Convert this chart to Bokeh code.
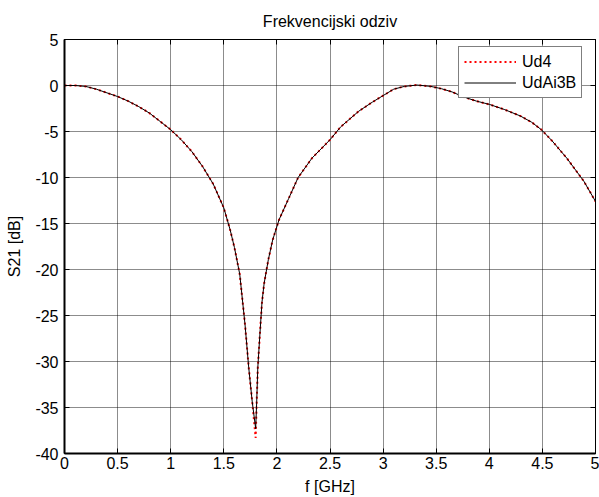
from bokeh.plotting import figure
from bokeh.models import Range1d, LinearAxis, FixedTicker, Legend, LegendItem
from bokeh.embed import file_html
from bokeh.resources import INLINE

# ---- data ----
freq_ghz = [0.00, 0.10, 0.20, 0.30, 0.40, 0.50, 0.60, 0.70, 0.80, 0.90,
            1.00, 1.10, 1.20, 1.30, 1.40, 1.50, 1.56, 1.60, 1.65, 1.70,
            1.735, 1.767, 1.80, 1.81, 1.82, 1.84, 1.86, 1.88, 1.92, 1.96,
            2.02, 2.11, 2.20, 2.33, 2.50, 2.60, 2.77, 2.90, 3.00, 3.10,
            3.20, 3.32, 3.45, 3.55, 3.65, 3.76, 3.88, 4.00, 4.14, 4.29, 4.40,
            4.49, 4.59, 4.73, 4.89, 5.00]
s21_udai3b = [0.0, 0.0, -0.1, -0.4, -0.8, -1.2, -1.7, -2.3, -3.0, -3.9,
              -4.8, -5.9, -7.2, -8.8, -10.7, -13.3, -15.7, -17.6, -20.5, -26.0,
              -30.7, -34.3, -37.3, -34.3, -30.7, -27.0, -23.5, -21.5, -18.9, -16.8,
              -14.6, -12.3, -10.0, -7.9, -5.9, -4.5, -2.8, -1.8, -1.1, -0.4,
              -0.1, 0.05, -0.1, -0.35, -0.7, -1.25, -1.7, -2.05, -2.6, -3.3, -4.0,
              -4.8, -6.0, -7.9, -10.4, -12.6]
s21_ud4 = [0.0, 0.0, -0.1, -0.4, -0.8, -1.2, -1.7, -2.3, -3.0, -3.9,
           -4.8, -5.9, -7.2, -8.8, -10.7, -13.3, -15.7, -17.6, -20.5, -26.0,
           -30.7, -34.3, -38.3, -34.3, -30.7, -27.0, -23.5, -21.5, -18.9, -16.8,
           -14.6, -12.3, -10.0, -7.9, -5.9, -4.5, -2.8, -1.8, -1.1, -0.4,
           -0.1, 0.05, -0.1, -0.35, -0.7, -1.25, -1.7, -2.05, -2.6, -3.3, -4.0,
           -4.8, -6.0, -7.9, -10.4, -12.6]
series_names = ["Ud4", "UdAi3B"]
x_ticks = [0, 0.5, 1, 1.5, 2, 2.5, 3, 3.5, 4, 4.5, 5]
x_tick_labels = ["0", "0.5", "1", "1.5", "2", "2.5", "3", "3.5", "4", "4.5", "5"]
y_ticks = [5, 0, -5, -10, -15, -20, -25, -30, -35, -40]
y_tick_labels = ["5", "0", "-5", "-10", "-15", "-20", "-25", "-30", "-35", "-40"]

FONT = "Liberation Sans"

p = figure(width=599, height=497, output_backend="svg", toolbar_location=None,
           x_range=Range1d(0, 5), y_range=Range1d(-40, 5),
           min_border_left=64, min_border_right=4, min_border_top=39,
           min_border_bottom=44, background_fill_color="white",
           border_fill_color="white")

p.title.text = "Frekvencijski odziv"
p.title.align = "center"
p.title.vertical_align = "top"
p.title.text_font = FONT
p.title.text_font_size = "16px"
p.title.text_font_style = "normal"
p.title.text_color = "black"
p.title.standoff = 16

p.outline_line_color = "black"
p.outline_line_width = 1

def style_axis(ax):
    ax.major_tick_in = 5
    ax.major_tick_out = 0
    ax.minor_tick_in = 0
    ax.minor_tick_out = 0
    ax.axis_line_color = "black"
    ax.major_tick_line_color = "black"
    ax.major_label_text_font = FONT
    ax.major_label_text_font_size = "16px"
    ax.major_label_text_color = "black"
    ax.axis_label_text_font = FONT
    ax.axis_label_text_font_size = "16px"
    ax.axis_label_text_font_style = "normal"
    ax.axis_label_text_color = "black"

xt = FixedTicker(ticks=x_ticks)
yt = FixedTicker(ticks=y_ticks)

p.xaxis.ticker = xt
p.yaxis.ticker = yt
p.xaxis.major_label_overrides = {t: l for t, l in zip(x_ticks, x_tick_labels)}
p.yaxis.major_label_overrides = {t: l for t, l in zip(y_ticks, y_tick_labels)}
style_axis(p.xaxis[0])
style_axis(p.yaxis[0])
p.xaxis.axis_label = "f [GHz]"
p.yaxis.axis_label = "S21 [dB]"
p.xaxis.axis_line_width = 2
p.yaxis.axis_line_width = 2
p.xaxis.major_label_standoff = 3
p.yaxis.major_label_standoff = 6
p.xaxis.axis_label_standoff = 6
p.yaxis.axis_label_standoff = 9

top_ax = LinearAxis(ticker=FixedTicker(ticks=x_ticks))
right_ax = LinearAxis(ticker=FixedTicker(ticks=y_ticks))
style_axis(top_ax)
style_axis(right_ax)
top_ax.major_label_overrides = {t: "" for t in x_ticks}
right_ax.major_label_overrides = {t: "" for t in y_ticks}
top_ax.major_label_standoff = 0
right_ax.major_label_standoff = 0
p.add_layout(top_ax, "above")
p.add_layout(right_ax, "right")

p.xgrid.ticker = xt
p.ygrid.ticker = yt
p.xgrid.grid_line_color = "black"
p.ygrid.grid_line_color = "black"
p.xgrid.grid_line_alpha = 0.45
p.ygrid.grid_line_alpha = 0.45
p.xgrid.grid_line_width = 1
p.ygrid.grid_line_width = 1

r_red = p.line(freq_ghz, s21_ud4, line_color="red", line_width=2, line_dash="2 3")
r_blk = p.line(freq_ghz, s21_udai3b, line_color="black", line_width=1)

legend = Legend(items=[LegendItem(label=series_names[0], renderers=[r_red]),
                       LegendItem(label=series_names[1], renderers=[r_blk])],
                location=(394, 355))
legend.label_text_font = FONT
legend.label_text_font_size = "16px"
legend.label_text_color = "black"
legend.border_line_color = "black"
legend.border_line_width = 1.5
legend.background_fill_color = "white"
legend.background_fill_alpha = 1
legend.glyph_width = 52
legend.glyph_height = 19
legend.label_standoff = 6
legend.spacing = 2
legend.padding = 5
legend.margin = 0
legend.label_height = 19
p.add_layout(legend, "center")

open("out.html", "w").write(file_html(p, INLINE))
